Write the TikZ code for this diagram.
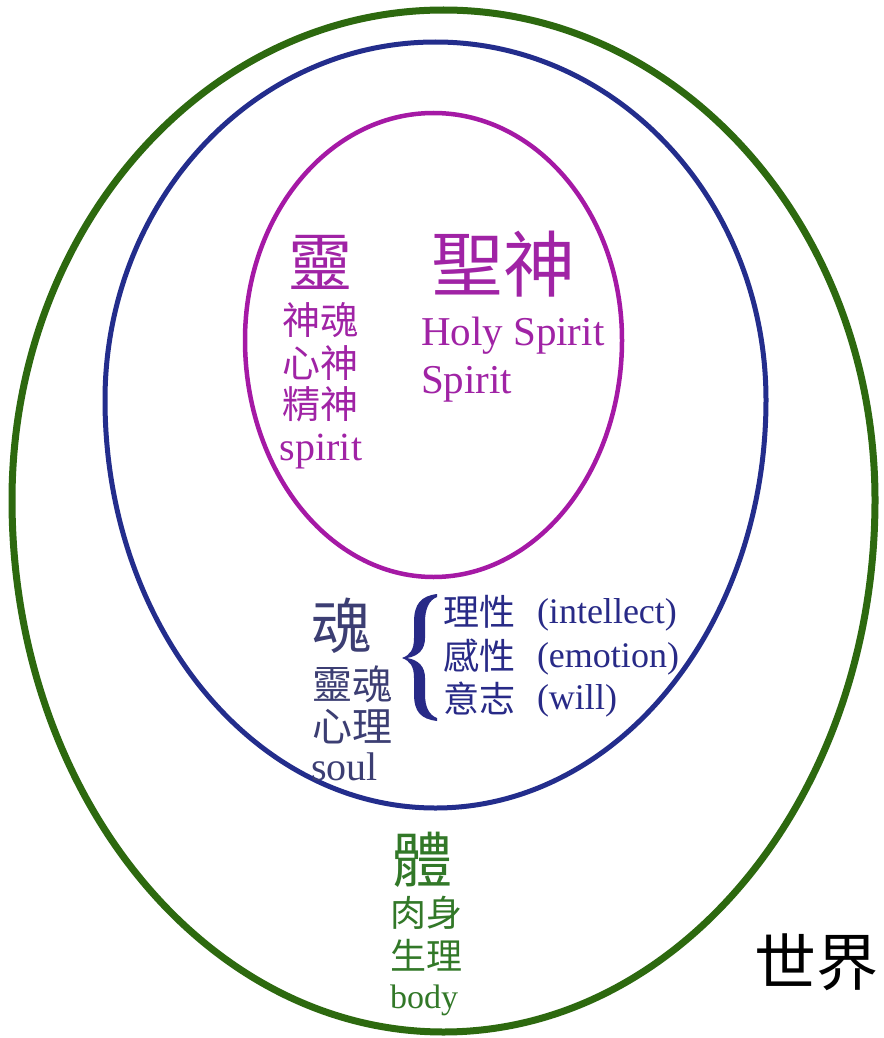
\documentclass[tikz,border=0pt]{standalone}
\usepackage{fontspec}
\setmainfont{Liberation Serif}
\newfontfamily\cjk{Noto Sans CJK TC}
\newcommand{\fsz}[1]{\fontsize{#1}{#1}\selectfont}
\definecolor{linegreen}{RGB}{45,105,15}
\definecolor{lineblue}{RGB}{35,45,140}
\definecolor{linemag}{RGB}{165,25,165}
\definecolor{spirittxt}{RGB}{160,35,165}
\definecolor{soultxt}{RGB}{60,62,115}
\definecolor{listtxt}{RGB}{40,42,135}
\definecolor{bodytxt}{RGB}{50,120,40}
\begin{document}
\begin{tikzpicture}[x=1pt,y=-1pt,
  lbl/.style={inner sep=0pt, outer sep=0pt},
  sp/.style={lbl, text=spirittxt},
  so/.style={lbl, text=soultxt},
  li/.style={lbl, text=listtxt},
  bo/.style={lbl, text=bodytxt}]
\useasboundingbox (0,0) rectangle (883,1038);
\fill[white] (0,0) rectangle (883,1038);
% world (green)
\draw[linegreen, line width=7pt] (12,500) arc[start angle=180, end angle=360, x radius=431.5, y radius=490]
  arc[start angle=0, end angle=180, x radius=431.5, y radius=532] -- cycle;
% soul (blue)
\draw[lineblue, line width=5pt] (105,400) arc[start angle=180, end angle=360, x radius=330.5, y radius=358]
  arc[start angle=0, end angle=180, x radius=330.5, y radius=408] -- cycle;
% spirit (magenta)
\draw[linemag, line width=4.5pt] (245,340) arc[start angle=180, end angle=360, x radius=188.5, y radius=227]
  arc[start angle=0, end angle=180, x radius=188.5, y radius=237] -- cycle;

% spirit texts
\node[sp, font=\cjk\fsz{64}] (ling) at (320,262) {靈};
\node[sp, font=\cjk\fsz{72}] (shengshen) at (503,264) {聖神};
\node[sp, font=\cjk\fsz{38}] (s1) at (320,320) {神魂};
\node[sp, font=\cjk\fsz{38}] (s2) at (320,363) {心神};
\node[sp, font=\cjk\fsz{38}] (s3) at (320,404) {精神};
\node[sp, font=\fsz{40}, anchor=base] (s4) at (321,460) {spirit};
\node[sp, font=\fsz{41}, anchor=base west] (hs) at (421,345) {Holy Spirit};
\node[sp, font=\fsz{41}, anchor=base west] (hs2) at (421,393) {Spirit};

% soul texts
\node[so, font=\cjk\fsz{60}] (hun) at (341,626) {魂};
\node[so, font=\cjk\fsz{40}] (o1) at (352,684) {靈魂};
\node[so, font=\cjk\fsz{40}] (o2) at (352,727) {心理};
\node[so, font=\fsz{40}, anchor=base west] (o3) at (311,780) {soul};
% brace
\fill[listtxt] (437,594) .. controls (421,596) and (414,604) .. (414,622) -- (414,638)
  .. controls (414,650) and (410,655) .. (402,658)
  .. controls (410,661) and (414,666) .. (414,678) -- (414,694)
  .. controls (414,712) and (421,719) .. (437,721)
  -- (437,718) .. controls (429,715) and (425,707) .. (425,694) -- (425,678)
  .. controls (425,667) and (419,660) .. (407,658)
  .. controls (419,656) and (425,649) .. (425,638) -- (425,622)
  .. controls (425,609) and (429,600) .. (437,597) -- cycle;
\node[li, font=\cjk\fsz{36}] (l1) at (479,612) {理性};
\node[li, font=\cjk\fsz{36}] (l2) at (479,656) {感性};
\node[li, font=\cjk\fsz{36}] (l3) at (479,698) {意志};
\node[li, font=\fsz{36}, anchor=base west] (e1) at (537,623) {(intellect)};
\node[li, font=\fsz{36}, anchor=base west] (e2) at (537,667) {(emotion)};
\node[li, font=\fsz{36}, anchor=base west] (e3) at (537,709) {(will)};

% body texts
\node[bo, font=\cjk\fsz{60}] (ti) at (422,860) {體};
\node[bo, font=\cjk\fsz{36}] (b1) at (426,913) {肉身};
\node[bo, font=\cjk\fsz{36}] (b2) at (426,955) {生理};
\node[bo, font=\fsz{34}, anchor=base west] (b3) at (390,1008) {body};

% world
\node[lbl, font=\cjk\fsz{62}] (world) at (816,962) {世界};
\end{tikzpicture}
\end{document}
